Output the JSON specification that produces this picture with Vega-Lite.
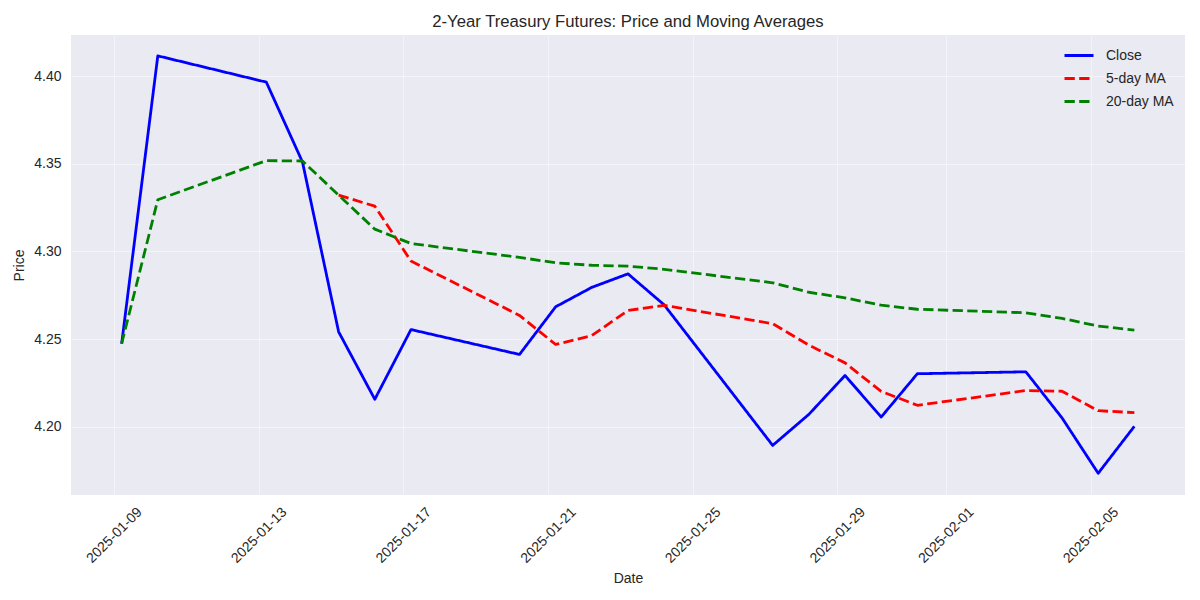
{
  "$schema": "https://vega.github.io/schema/vega-lite/v6.json",
  "autosize": {"type": "none"},
  "padding": {"left": 71, "top": 35, "right": 15, "bottom": 105},
  "width": 1114,
  "height": 460,
  "background": "white",
  "title": {
    "text": "2-Year Treasury Futures: Price and Moving Averages",
    "font": "Liberation Sans",
    "fontSize": 16.7,
    "fontWeight": "normal",
    "color": "#262626",
    "anchor": "middle",
    "baseline": "alphabetic",
    "offset": -9
  },
  "data": {
    "values": [
      {"date": "2025-01-09T05:00:00", "series": "Close", "price": 4.2473},
      {"date": "2025-01-10T05:00:00", "series": "Close", "price": 4.4116},
      {"date": "2025-01-13T05:00:00", "series": "Close", "price": 4.3966},
      {"date": "2025-01-14T05:00:00", "series": "Close", "price": 4.3510},
      {"date": "2025-01-15T05:00:00", "series": "Close", "price": 4.2541},
      {"date": "2025-01-16T05:00:00", "series": "Close", "price": 4.2156},
      {"date": "2025-01-17T05:00:00", "series": "Close", "price": 4.2554},
      {"date": "2025-01-20T05:00:00", "series": "Close", "price": 4.2412},
      {"date": "2025-01-21T05:00:00", "series": "Close", "price": 4.2684},
      {"date": "2025-01-22T05:00:00", "series": "Close", "price": 4.2795},
      {"date": "2025-01-23T05:00:00", "series": "Close", "price": 4.2872},
      {"date": "2025-01-24T05:00:00", "series": "Close", "price": 4.2695},
      {"date": "2025-01-27T05:00:00", "series": "Close", "price": 4.1893},
      {"date": "2025-01-28T05:00:00", "series": "Close", "price": 4.2070},
      {"date": "2025-01-29T05:00:00", "series": "Close", "price": 4.2292},
      {"date": "2025-01-30T05:00:00", "series": "Close", "price": 4.2055},
      {"date": "2025-01-31T05:00:00", "series": "Close", "price": 4.2302},
      {"date": "2025-02-03T05:00:00", "series": "Close", "price": 4.2313},
      {"date": "2025-02-04T05:00:00", "series": "Close", "price": 4.2050},
      {"date": "2025-02-05T05:00:00", "series": "Close", "price": 4.1734},
      {"date": "2025-02-06T05:00:00", "series": "Close", "price": 4.2002},
      {"date": "2025-01-15T05:00:00", "series": "5-day MA", "price": 4.3321},
      {"date": "2025-01-16T05:00:00", "series": "5-day MA", "price": 4.3258},
      {"date": "2025-01-17T05:00:00", "series": "5-day MA", "price": 4.2945},
      {"date": "2025-01-20T05:00:00", "series": "5-day MA", "price": 4.2635},
      {"date": "2025-01-21T05:00:00", "series": "5-day MA", "price": 4.2469},
      {"date": "2025-01-22T05:00:00", "series": "5-day MA", "price": 4.2520},
      {"date": "2025-01-23T05:00:00", "series": "5-day MA", "price": 4.2663},
      {"date": "2025-01-24T05:00:00", "series": "5-day MA", "price": 4.2692},
      {"date": "2025-01-27T05:00:00", "series": "5-day MA", "price": 4.2588},
      {"date": "2025-01-28T05:00:00", "series": "5-day MA", "price": 4.2465},
      {"date": "2025-01-29T05:00:00", "series": "5-day MA", "price": 4.2364},
      {"date": "2025-01-30T05:00:00", "series": "5-day MA", "price": 4.2201},
      {"date": "2025-01-31T05:00:00", "series": "5-day MA", "price": 4.2122},
      {"date": "2025-02-03T05:00:00", "series": "5-day MA", "price": 4.2206},
      {"date": "2025-02-04T05:00:00", "series": "5-day MA", "price": 4.2202},
      {"date": "2025-02-05T05:00:00", "series": "5-day MA", "price": 4.2091},
      {"date": "2025-02-06T05:00:00", "series": "5-day MA", "price": 4.2080},
      {"date": "2025-01-09T05:00:00", "series": "20-day MA", "price": 4.2473},
      {"date": "2025-01-10T05:00:00", "series": "20-day MA", "price": 4.3295},
      {"date": "2025-01-13T05:00:00", "series": "20-day MA", "price": 4.3518},
      {"date": "2025-01-14T05:00:00", "series": "20-day MA", "price": 4.3516},
      {"date": "2025-01-15T05:00:00", "series": "20-day MA", "price": 4.3321},
      {"date": "2025-01-16T05:00:00", "series": "20-day MA", "price": 4.3127},
      {"date": "2025-01-17T05:00:00", "series": "20-day MA", "price": 4.3045},
      {"date": "2025-01-20T05:00:00", "series": "20-day MA", "price": 4.2966},
      {"date": "2025-01-21T05:00:00", "series": "20-day MA", "price": 4.2935},
      {"date": "2025-01-22T05:00:00", "series": "20-day MA", "price": 4.2921},
      {"date": "2025-01-23T05:00:00", "series": "20-day MA", "price": 4.2916},
      {"date": "2025-01-24T05:00:00", "series": "20-day MA", "price": 4.2898},
      {"date": "2025-01-27T05:00:00", "series": "20-day MA", "price": 4.2821},
      {"date": "2025-01-28T05:00:00", "series": "20-day MA", "price": 4.2767},
      {"date": "2025-01-29T05:00:00", "series": "20-day MA", "price": 4.2735},
      {"date": "2025-01-30T05:00:00", "series": "20-day MA", "price": 4.2693},
      {"date": "2025-01-31T05:00:00", "series": "20-day MA", "price": 4.2670},
      {"date": "2025-02-03T05:00:00", "series": "20-day MA", "price": 4.2650},
      {"date": "2025-02-04T05:00:00", "series": "20-day MA", "price": 4.2618},
      {"date": "2025-02-05T05:00:00", "series": "20-day MA", "price": 4.2574},
      {"date": "2025-02-06T05:00:00", "series": "20-day MA", "price": 4.2551}
    ]
  },
  "encoding": {
    "x": {
      "field": "date",
      "type": "temporal",
      "title": "Date",
      "scale": {"domain": ["2025-01-07T19:24:00", "2025-02-07T14:36:00"], "nice": false},
      "axis": {
        "values": ["2025-01-09T00:00:00", "2025-01-13T00:00:00", "2025-01-17T00:00:00", "2025-01-21T00:00:00", "2025-01-25T00:00:00", "2025-01-29T00:00:00", "2025-02-01T00:00:00", "2025-02-05T00:00:00"],
        "format": "%Y-%m-%d",
        "labelAngle": -45,
        "labelAlign": "center",
        "labelBaseline": "middle",
        "labelPadding": 40,
        "labelOverlap": false,
        "labelFlush": false,
        "titlePadding": 6
      }
    },
    "y": {
      "field": "price",
      "type": "quantitative",
      "title": "Price",
      "scale": {"domain": [4.161, 4.4235], "nice": false, "zero": false},
      "axis": {
        "values": [4.20, 4.25, 4.30, 4.35, 4.40],
        "format": ".2f",
        "labelPadding": 10,
        "titlePadding": 7
      }
    },
    "color": {
      "field": "series",
      "type": "nominal",
      "title": null,
      "scale": {"domain": ["Close", "5-day MA", "20-day MA"], "range": ["#0000ff", "#ff0000", "#008000"]},
      "legend": {"orient": "none", "legendX": 992, "legendY": 4.5}
    },
    "strokeDash": {
      "field": "series",
      "type": "nominal",
      "title": null,
      "scale": {"domain": ["Close", "5-day MA", "20-day MA"], "range": [[1, 0], [10.3, 4.4], [10.3, 4.4]]},
      "legend": {"orient": "none", "legendX": 992, "legendY": 4.5}
    }
  },
  "layer": [
    {"transform": [{"filter": "datum.series === 'Close'"}], "mark": {"type": "line", "strokeWidth": 2.8, "strokeJoin": "round"}},
    {"transform": [{"filter": "datum.series === '5-day MA'"}], "mark": {"type": "line", "strokeWidth": 2.8, "strokeJoin": "round"}},
    {"transform": [{"filter": "datum.series === '20-day MA'"}], "mark": {"type": "line", "strokeWidth": 2.8, "strokeJoin": "round"}}
  ],
  "config": {
    "view": {"fill": "#eaeaf2", "stroke": null},
    "axis": {
      "grid": true,
      "gridColor": "#ffffff",
      "gridOpacity": 0.45,
      "gridWidth": 1,
      "domain": false,
      "ticks": false,
      "labelFont": "Liberation Sans",
      "labelFontSize": 14,
      "labelColor": "#262626",
      "titleFont": "Liberation Sans",
      "titleFontSize": 14,
      "titleFontWeight": "normal",
      "titleColor": "#262626"
    },
    "legend": {
      "padding": 0,
      "labelFont": "Liberation Sans",
      "labelFontSize": 14,
      "labelColor": "#262626",
      "symbolType": "stroke",
      "symbolSize": 841,
      "symbolStrokeWidth": 2.8,
      "labelOffset": 11,
      "rowPadding": -8
    }
  }
}
